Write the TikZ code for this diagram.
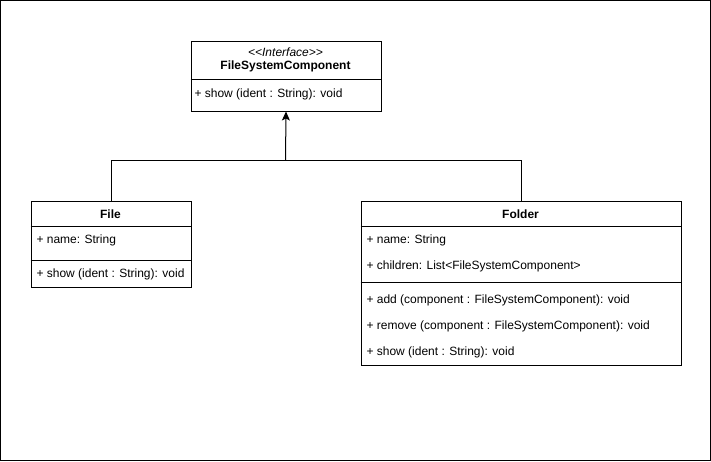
\documentclass[tikz,border=0pt]{standalone}
\usepackage{fontspec}
\setmainfont{Liberation Sans}
\usetikzlibrary{arrows.meta}
\tikzstyle{classbox}=[draw, anchor=north west, inner sep=0pt]
\tikzstyle{member}=[anchor=west, inner sep=0pt]
\tikzstyle{title}=[font=\fontsize{12}{14}\selectfont\bfseries, inner sep=0pt]

\begin{document}
\begin{tikzpicture}[x=1pt, y=-1pt, line width=1pt, font=\fontsize{12}{14}\selectfont]

\useasboundingbox (0,0) rectangle (711,461);
\draw (0.5,0.5) rectangle (710.5,460.5);

% interface
\node[classbox, minimum width=190pt, minimum height=70pt] (iface) at (190.5,40.5) {};
\node[font=\fontsize{12}{14}\selectfont\itshape, inner sep=0pt] (stereo) at (285.5,52.5) {<{}<Interface>{}>};
\node[title] (ifacename) at (285.5,66.5) {FileSystemComponent};
\draw (190.5,79.5) -- (380.5,79.5);
\node[member] (ishow) at (194,94.5) {+ show (ident : String): void};

% File
\node[classbox, minimum width=160pt, minimum height=86pt] (file) at (30.5,200.5) {};
\node[title] (filename) at (110.5,214.5) {File};
\draw (30.5,226.5) -- (190.5,226.5);
\node[member] (fname) at (36,240.5) {+ name: String};
\draw (30.5,260.5) -- (190.5,260.5);
\node[member] (fshow) at (36,274.5) {+ show (ident : String): void};

% Folder
\node[classbox, minimum width=320pt, minimum height=164pt] (folder) at (360.5,200.5) {};
\node[title] (foldername) at (520.5,214.5) {Folder};
\draw (360.5,226.5) -- (680.5,226.5);
\node[member] (dname) at (366,240.5) {+ name: String};
\node[member] (dchildren) at (366,266.5) {+ children: List<FileSystemComponent>};
\draw (360.5,282.5) -- (680.5,282.5);
\node[member] (dadd) at (366,300.5) {+ add (component : FileSystemComponent): void};
\node[member] (dremove) at (366,326.5) {+ remove (component : FileSystemComponent): void};
\node[member] (dshow) at (366,352.5) {+ show (ident : String): void};

% inheritance
\coordinate (join) at (285.5,160.5);
\draw (file.north) |- (join) -| (folder.north);
\draw[-{Stealth[length=9pt, width=8pt, inset=2pt]}] (join) -- (iface.south);

\end{tikzpicture}
\end{document}
